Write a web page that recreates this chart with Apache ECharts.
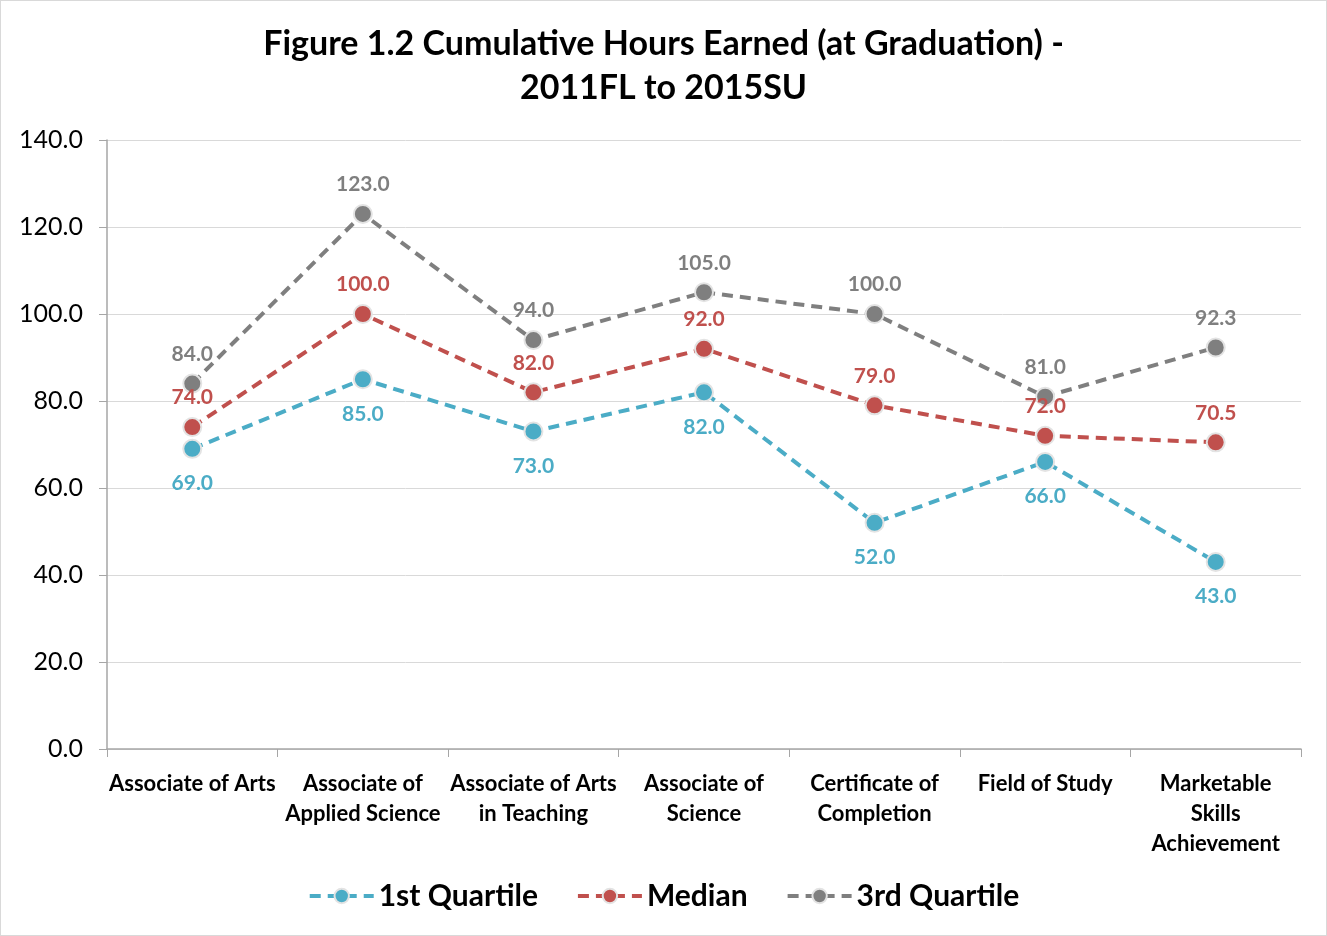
<!DOCTYPE html>
<html><head><meta charset="utf-8">
<script src="https://cdn.jsdelivr.net/npm/echarts@6/dist/echarts.min.js"></script>
<style>html,body{margin:0;padding:0;background:#fff}#c{width:1327px;height:936px;box-sizing:border-box;border:1px solid #d9d9d9}</style>
</head><body><div id="c"></div>
<script>
var categories = ["Associate of Arts", "Associate of\nApplied Science", "Associate of Arts\nin Teaching", "Associate of\nScience", "Certificate of\nCompletion", "Field of Study", "Marketable\nSkills\nAchievement"];
var q1 = [69.0, 85.0, 73.0, 82.0, 52.0, 66.0, 43.0];
var median = [74.0, 100.0, 82.0, 92.0, 79.0, 72.0, 70.5];
var q3 = [84.0, 123.0, 94.0, 105.0, 100.0, 81.0, 92.3];
var FONT = 'Lato, "Open Sans", sans-serif';
function mk(name, data, color, pos) {
  return {
    name: name, type: 'line', data: data,
    symbol: 'circle', symbolSize: 18,
    itemStyle: {color: color, borderColor: '#e3e3e3', borderWidth: 2},
    lineStyle: {color: color, width: 4, type: [11, 7]},
    label: {show: true, position: pos, distance: pos === 'bottom' ? 14 : 9, color: color, fontFamily: FONT, fontWeight: 'bold', fontSize: 21,
      formatter: function (p) { return p.value.toFixed(1); }},
    emphasis: {disabled: true}
  };
}
var chart = echarts.init(document.getElementById('c'), null, {renderer: 'canvas'});
chart.setOption({
  animation: false,
  title: {text: 'Figure 1.2 Cumulative Hours Earned (at Graduation) -\n2011FL to 2015SU', left: 'center', top: 16,
    textStyle: {fontFamily: FONT, fontWeight: 'bold', fontSize: 34, lineHeight: 44, color: '#000'}},
  grid: {left: 106, right: 25, top: 139, bottom: 186},
  legend: {bottom: 19, left: 'center', itemWidth: 64, itemHeight: 18, itemGap: 38,
    lineStyle: {width: 4},
    textStyle: {fontFamily: FONT, fontWeight: 'bold', fontSize: 30, color: '#000'},
    data: ['1st Quartile', 'Median', '3rd Quartile']},
  xAxis: {type: 'category', data: categories, boundaryGap: true,
    axisLine: {lineStyle: {color: '#a6a6a6', width: 1.5}},
    axisTick: {show: true, length: 8, lineStyle: {color: '#a6a6a6'}},
    axisLabel: {interval: 0, margin: 20, fontFamily: FONT, fontWeight: 'bold', fontSize: 22, lineHeight: 30, color: '#000'}},
  yAxis: {type: 'value', min: 0, max: 140, interval: 20,
    axisLine: {show: true, lineStyle: {color: '#a6a6a6', width: 1.5}},
    axisTick: {show: true, length: 8, lineStyle: {color: '#a6a6a6'}},
    splitLine: {lineStyle: {color: '#d9d9d9'}},
    axisLabel: {margin: 24, fontFamily: FONT, fontSize: 25, color: '#000', formatter: function (v) { return v.toFixed(1); }}},
  series: [mk('1st Quartile', q1, '#4bacc6', 'bottom'), mk('Median', median, '#c0504d', 'top'), mk('3rd Quartile', q3, '#7f7f7f', 'top')]
});
</script></body></html>
